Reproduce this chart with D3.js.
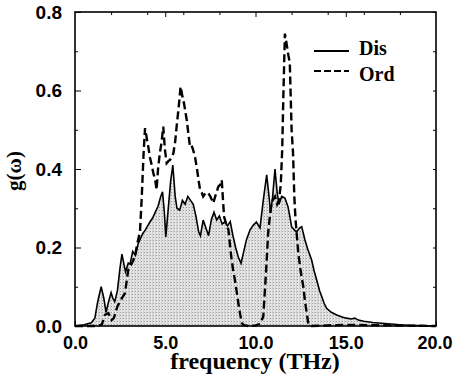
<!DOCTYPE html>
<html>
<head>
<meta charset="utf-8">
<script src="https://cdn.jsdelivr.net/npm/d3@7"></script>
<style>
  body { margin: 0; background: #fff; }
  svg { display: block; }
</style>
</head>
<body>
<div class="graph"></div>
<script>
// phonon density of states g(w)
const disFreq = [0, 0.5, 0.9, 1.1, 1.25, 1.45, 1.6, 1.72, 1.85, 2.0, 2.1, 2.2, 2.35, 2.5, 2.6, 2.7, 2.8, 2.95, 3.05, 3.2, 3.35, 3.5, 3.6, 3.75, 3.9, 4.0, 4.15, 4.3, 4.45, 4.6, 4.75, 4.85, 4.95, 5.03, 5.15, 5.3, 5.42, 5.55, 5.65, 5.8, 5.95, 6.1, 6.25, 6.4, 6.55, 6.7, 6.85, 6.95, 7.1, 7.25, 7.4, 7.55, 7.7, 7.85, 8.0, 8.15, 8.3, 8.45, 8.6, 8.75, 8.9, 9.05, 9.2, 9.35, 9.5, 9.7, 9.88, 10.05, 10.25, 10.43, 10.62, 10.75, 10.84, 10.95, 11.08, 11.2, 11.3, 11.45, 11.63, 11.8, 11.9, 12.0, 12.15, 12.28, 12.45, 12.56, 12.74, 12.9, 13.11, 13.25, 13.39, 13.55, 13.67, 13.8, 13.94, 14.2, 14.5, 14.8, 15.05, 15.3, 15.5, 15.7, 16.0, 16.5, 17.0, 17.5, 18.0, 18.5, 19.0, 20.0]
const disG = [0, 0.003, 0.008, 0.02, 0.06, 0.10, 0.07, 0.035, 0.06, 0.085, 0.07, 0.062, 0.09, 0.15, 0.183, 0.16, 0.138, 0.16, 0.158, 0.19, 0.18, 0.21, 0.22, 0.235, 0.245, 0.253, 0.265, 0.275, 0.29, 0.305, 0.33, 0.342, 0.29, 0.227, 0.29, 0.37, 0.41, 0.33, 0.30, 0.295, 0.32, 0.31, 0.33, 0.32, 0.31, 0.28, 0.24, 0.23, 0.27, 0.25, 0.23, 0.27, 0.29, 0.27, 0.28, 0.26, 0.265, 0.255, 0.266, 0.23, 0.20, 0.175, 0.16, 0.19, 0.22, 0.245, 0.257, 0.265, 0.25, 0.32, 0.385, 0.33, 0.288, 0.33, 0.40, 0.34, 0.31, 0.33, 0.326, 0.304, 0.28, 0.253, 0.245, 0.24, 0.25, 0.253, 0.219, 0.195, 0.168, 0.14, 0.117, 0.09, 0.075, 0.058, 0.045, 0.035, 0.028, 0.023, 0.02, 0.018, 0.02, 0.015, 0.012, 0.009, 0.007, 0.005, 0.003, 0.002, 0.001, 0]

const ordFreq = [0, 1.3, 1.5, 1.65, 1.85, 2.03, 2.15, 2.35, 2.6, 2.77, 2.95, 3.15, 3.32, 3.45, 3.6, 3.7, 3.8, 3.88, 3.97, 4.06, 4.15, 4.25, 4.34, 4.45, 4.52, 4.6, 4.7, 4.8, 4.89, 4.98, 5.08, 5.17, 5.26, 5.35, 5.45, 5.55, 5.63, 5.75, 5.85, 5.95, 6.04, 6.12, 6.19, 6.28, 6.37, 6.46, 6.55, 6.65, 6.74, 6.85, 6.93, 7.02, 7.1, 7.25, 7.39, 7.5, 7.66, 7.8, 7.94, 8.05, 8.13, 8.2, 8.26, 8.38, 8.5, 8.6, 8.68, 8.77, 8.86, 8.95, 9.05, 9.15, 9.24, 9.35, 9.6, 10.0, 10.25, 10.43, 10.52, 10.6, 10.7, 10.84, 10.95, 11.08, 11.2, 11.3, 11.4, 11.48, 11.55, 11.63, 11.72, 11.82, 11.9, 12.0, 12.08, 12.15, 12.22, 12.37, 12.5, 12.65, 12.75, 12.84, 12.93, 13.1, 15.0, 20.0]
const ordG = [0, 0, 0.005, 0.028, 0.033, 0.015, 0.02, 0.05, 0.071, 0.084, 0.143, 0.16, 0.177, 0.21, 0.24, 0.33, 0.44, 0.504, 0.48, 0.457, 0.43, 0.41, 0.39, 0.37, 0.347, 0.40, 0.44, 0.47, 0.508, 0.45, 0.415, 0.42, 0.423, 0.43, 0.44, 0.47, 0.508, 0.56, 0.61, 0.585, 0.567, 0.545, 0.525, 0.49, 0.457, 0.46, 0.448, 0.43, 0.406, 0.37, 0.347, 0.34, 0.33, 0.34, 0.338, 0.33, 0.313, 0.335, 0.355, 0.36, 0.372, 0.32, 0.278, 0.26, 0.245, 0.20, 0.168, 0.14, 0.117, 0.09, 0.058, 0.03, 0.008, 0.002, 0, 0.001, 0.006, 0.024, 0.09, 0.15, 0.236, 0.30, 0.32, 0.33, 0.31, 0.32, 0.36, 0.45, 0.60, 0.745, 0.72, 0.69, 0.67, 0.50, 0.44, 0.33, 0.27, 0.186, 0.14, 0.10, 0.06, 0.033, 0.005, 0, 0.003, 0]

const yMajor = [0, 0.2, 0.4, 0.6, 0.8]
const yMinor = [0.1, 0.3, 0.5, 0.7]
const xMajor = [0, 5, 10, 15, 20]
const xMinor = [2, 4, 6, 8, 12, 14, 16, 18]
const seriesNames = ["Dis", "Ord"]

const dis = disFreq.map((f, i) => ({f: f, g: disG[i]}))
const ord = ordFreq.map((f, i) => ({f: f, g: ordG[i]}))

const width = 453, height = 388
const margin = {top: 12, right: 17, bottom: 62, left: 75}

const svg = d3.select(".graph").append("svg")
    .attr("width", width)
    .attr("height", height)
    .style("font-family", "'Liberation Serif', 'Times New Roman', serif")
    .style("font-weight", "bold")

// stippled grey fill
const pat = svg.append("defs").append("pattern")
    .attr("id", "stip")
    .attr("width", 3).attr("height", 3)
    .attr("patternUnits", "userSpaceOnUse")
pat.append("rect").attr("width", 3).attr("height", 3).attr("fill", "#e6e6e6")
pat.append("rect").attr("width", 1).attr("height", 1).attr("fill", "#9a9a9a")
pat.append("rect").attr("x", 2).attr("width", 1).attr("height", 3).attr("fill", "#d2d2d2")

const x = d3.scaleLinear().domain([0, 20]).range([margin.left, width - margin.right])
const y = d3.scaleLinear().domain([0, 0.8]).range([height - margin.bottom, margin.top])

// axes, ticks point inwards
svg.append("g")
    .attr("transform", `translate(${margin.left},0)`)
    .call(d3.axisLeft(y).tickValues(yMajor).tickSize(-6).tickPadding(13).tickFormat(d3.format(".1f")))
    .call(g => g.select(".domain").remove())
    .style("font-size", "19px")
    .call(g => g.selectAll("text").attr("fill", "#000"))

svg.append("g")
    .attr("transform", `translate(${margin.left},0)`)
    .call(d3.axisLeft(y).tickValues(yMinor).tickSize(-3).tickFormat(""))
    .call(g => g.select(".domain").remove())

svg.append("g")
    .attr("transform", `translate(${width - margin.right},0)`)
    .call(d3.axisRight(y).tickValues(yMajor.concat(yMinor)).tickSize(-3).tickFormat(""))
    .call(g => g.select(".domain").remove())

svg.append("g")
    .attr("transform", `translate(0,${margin.top})`)
    .call(d3.axisTop(x).tickValues(xMinor).tickSize(-3).tickFormat(""))
    .call(g => g.select(".domain").remove())
svg.append("g")
    .attr("transform", `translate(0,${margin.top})`)
    .call(d3.axisTop(x).tickValues([5, 10, 15]).tickSize(-5).tickFormat(""))
    .call(g => g.select(".domain").remove())

svg.append("g")
    .attr("transform", `translate(0,${height - margin.bottom})`)
    .call(d3.axisBottom(x).tickValues(xMajor).tickSize(-5).tickPadding(10).tickFormat(d3.format(".1f")))
    .call(g => g.select(".domain").remove())
    .style("font-size", "18px")
    .call(g => g.selectAll("text").attr("fill", "#000"))
    .call(g => g.selectAll(".tick:last-of-type text").attr("text-anchor", "end").attr("dx", "16px"))

// area under the disordered curve
svg.append("path")
    .datum(dis)
    .attr("fill", "url(#stip)")
    .attr("d", d3.area().x(d => x(d.f)).y0(y(0)).y1(d => y(d.g)))

svg.append("path")
    .datum(ord)
    .attr("fill", "none")
    .attr("stroke", "#000")
    .attr("stroke-width", 2.4)
    .attr("stroke-dasharray", "8,4")
    .attr("d", d3.line().x(d => x(d.f)).y(d => y(d.g)))

svg.append("path")
    .datum(dis)
    .attr("fill", "none")
    .attr("stroke", "#000")
    .attr("stroke-width", 1.6)
    .attr("d", d3.line().x(d => x(d.f)).y(d => y(d.g)))

// frame
svg.append("rect")
    .attr("x", margin.left).attr("y", margin.top)
    .attr("width", width - margin.right - margin.left)
    .attr("height", height - margin.bottom - margin.top)
    .attr("fill", "none")
    .attr("stroke", "#000")
    .attr("stroke-width", 1.6)

// legend
const legend = svg.append("g")
legend.selectAll("line")
    .data(seriesNames)
    .join("line")
    .attr("x1", 314).attr("x2", 349)
    .attr("y1", (d, i) => 51 + i * 20)
    .attr("y2", (d, i) => 51 + i * 20)
    .attr("stroke", "#000")
    .attr("stroke-width", (d, i) => i ? 2 : 1.8)
    .attr("stroke-dasharray", (d, i) => i ? "7,3" : null)
legend.selectAll("text")
    .data(seriesNames)
    .join("text")
    .attr("x", 359)
    .attr("y", (d, i) => 55 + i * 26)
    .style("font-size", "20px")
    .text(d => d)

svg.append("text")
    .attr("x", 255).attr("y", 369)
    .attr("text-anchor", "middle")
    .style("font-size", "24px")
    .text("frequency (THz)")

svg.append("text")
    .attr("transform", "translate(21,171) rotate(-90)")
    .attr("text-anchor", "middle")
    .style("font-size", "21px")
    .text("g(ω)")
</script>
</body>
</html>
